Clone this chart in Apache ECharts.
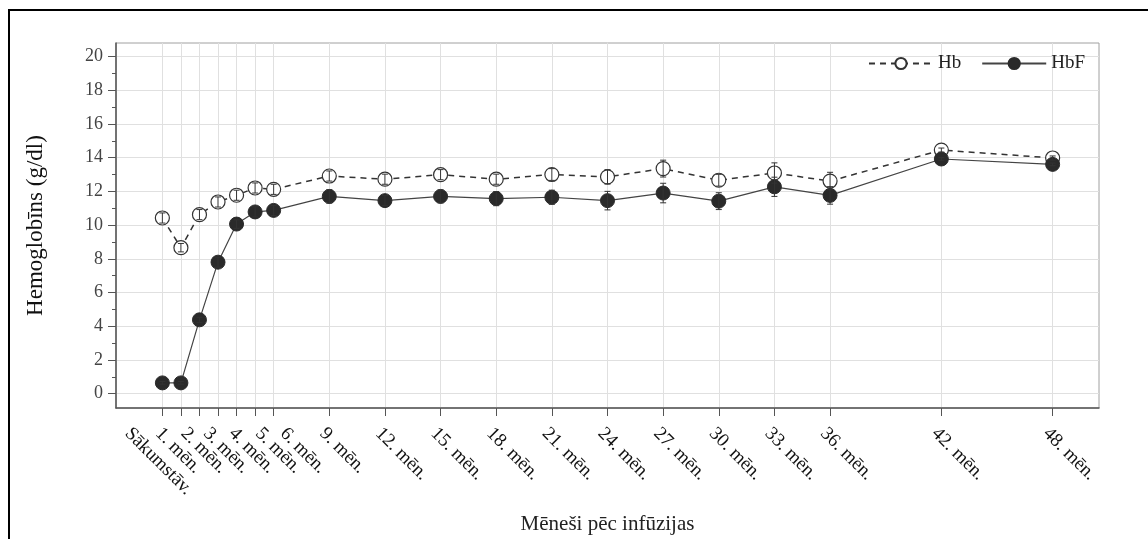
<!DOCTYPE html>
<html>
<head>
<meta charset="utf-8">
<script src="https://cdn.jsdelivr.net/npm/echarts@6/dist/echarts.min.js"></script>
<style>
  html, body { margin: 0; padding: 0; background: #fff; }
  #container { width: 1148px; height: 539px; }
</style>
</head>
<body>
<div id="container"></div>
<script>
// months after infusion (x positions) and their tick labels
const months = [0, 1, 2, 3, 4, 5, 6, 9, 12, 15, 18, 21, 24, 27, 30, 33, 36, 42, 48];
const monthLabels = [
  "Sākumstāv.", "1. mēn.", "2. mēn.", "3. mēn.", "4. mēn.", "5. mēn.", "6. mēn.",
  "9. mēn.", "12. mēn.", "15. mēn.", "18. mēn.", "21. mēn.", "24. mēn.", "27. mēn.",
  "30. mēn.", "33. mēn.", "36. mēn.", "42. mēn.", "48. mēn.",
];

// Hb (g/dl) and its error
const hb = [10.42, 8.66, 10.62, 11.37, 11.77, 12.2, 12.12, 12.91, 12.72, 12.99, 12.72, 13.0, 12.86, 13.35, 12.66, 13.09, 12.61, 14.45, 13.98];
const hbErr = [0.3, 0.25, 0.3, 0.3, 0.3, 0.3, 0.3, 0.3, 0.3, 0.3, 0.3, 0.35, 0.43, 0.5, 0.35, 0.6, 0.52, 0.12, 0.12];

// HbF (g/dl) and its error
const hbf = [0.64, 0.64, 4.38, 7.8, 10.06, 10.78, 10.87, 11.7, 11.45, 11.7, 11.57, 11.65, 11.45, 11.9, 11.42, 12.27, 11.76, 13.92, 13.6];
const hbfErr = [0.08, 0.08, 0.15, 0.3, 0.25, 0.3, 0.3, 0.4, 0.3, 0.38, 0.42, 0.42, 0.55, 0.58, 0.5, 0.57, 0.52, 0.08, 0.08];

const yMajor = [0, 2, 4, 6, 8, 10, 12, 14, 16, 18, 20];
const yMinor = [1, 3, 5, 7, 9, 11, 13, 15, 17, 19];

const FONT = "Liberation Serif";
const DARK = "#333";

// the crowded first labels are fanned out sideways (px), like in the original
const labelNudge = { 0: -28, 1: -16, 2: -9, 3: -5, 4: 2, 5: 10, 6: 16 };

// labels split over two axes so that the min-label overlap check never hides one
const labelsA = months.filter((m, i) => !(i >= 1 && i <= 5 && i % 2 === 1));
const labelsB = [1, 3, 5];

function pairs(vals) {
  return months.map((m, i) => [m, vals[i]]);
}
function errRows(vals, errs) {
  return months.map((m, i) => [m, vals[i] - errs[i], vals[i] + errs[i]]);
}

const labelRich = {};
Object.keys(labelNudge).forEach((m) => {
  const d = labelNudge[m] / Math.SQRT2;
  labelRich["n" + m] = {
    fontFamily: FONT,
    fontSize: 19,
    color: "#111",
    padding: [-d, 0, 0, d],
  };
});

function monthLabel(v) {
  const i = months.indexOf(v);
  if (i < 0) return "";
  if (labelNudge[v] !== undefined) return "{n" + v + "|" + monthLabels[i] + "}";
  return monthLabels[i];
}

function renderErrorBar(params, api) {
  const x = api.value(0);
  const lo = api.coord([x, api.value(1)]);
  const hi = api.coord([x, api.value(2)]);
  const cap = 3;
  const style = { stroke: DARK, lineWidth: 1 };
  return {
    type: "group",
    children: [
      { type: "line", shape: { x1: lo[0], y1: lo[1], x2: hi[0], y2: hi[1] }, style: style },
      { type: "line", shape: { x1: lo[0] - cap, y1: lo[1], x2: lo[0] + cap, y2: lo[1] }, style: style },
      { type: "line", shape: { x1: hi[0] - cap, y1: hi[1], x2: hi[0] + cap, y2: hi[1] }, style: style },
    ],
  };
}

const xLabelBase = {
  rotate: -45,
  margin: 16,
  verticalAlign: "top",
  showMinLabel: true,
  showMaxLabel: true,
  fontFamily: FONT,
  fontSize: 19,
  color: "#111",
  hideOverlap: false,
  formatter: monthLabel,
  rich: labelRich,
};

const dom = document.getElementById("container");
const myChart = echarts.init(dom, null, { renderer: "canvas" });

const option = {
  animation: false,
  backgroundColor: "#fff",
  graphic: [
    {
      type: "rect",
      shape: { x: 9, y: 10, width: 1400, height: 800 },
      style: { fill: "none", stroke: "#000", lineWidth: 2 },
      silent: true,
    },
  ],
  grid: {
    left: 116,
    right: 49,
    top: 43,
    bottom: 131,
    show: true,
    borderColor: "#a0a0a0",
    borderWidth: 1,
    outerBoundsMode: "none",
  },
  legend: {
    data: ["Hb", "HbF"],
    right: 58,
    top: 49,
    itemWidth: 64,
    itemHeight: 14,
    itemGap: 20,
    textStyle: { fontFamily: FONT, fontSize: 19, color: "#222" },
  },
  xAxis: [
    {
      type: "value",
      position: "bottom",
      min: -2.5,
      max: 50.5,
      name: "Mēneši pēc infūzijas",
      nameLocation: "middle",
      nameGap: 106,
      nameTextStyle: { fontFamily: FONT, fontSize: 21, color: "#222" },
      axisLine: { show: true, onZero: false, lineStyle: { color: "#555", width: 1.5 } },
      axisTick: {
        show: true,
        customValues: months,
        length: 8,
        lineStyle: { color: "#555" },
      },
      axisLabel: Object.assign({ customValues: labelsA }, xLabelBase),
      splitLine: { show: true, lineStyle: { color: "#e0e0e0", width: 1 } },
    },
    {
      type: "value",
      position: "bottom",
      min: -2.5,
      max: 50.5,
      axisLine: { show: false, onZero: false },
      axisTick: { show: true, customValues: labelsB, length: 8, lineStyle: { color: "#555" } },
      axisLabel: Object.assign({ customValues: labelsB }, xLabelBase),
      splitLine: { show: false },
    },
  ],
  yAxis: [
    {
      type: "value",
      min: -0.85,
      max: 20.8,
      name: "Hemoglobīns (g/dl)",
      nameLocation: "middle",
      nameGap: 69,
      nameTextStyle: { fontFamily: FONT, fontSize: 23, color: "#111" },
      axisLine: { show: true, onZero: false, lineStyle: { color: "#555", width: 1.5 } },
      axisTick: {
        show: true,
        customValues: yMajor,
        length: 8,
        lineStyle: { color: "#555" },
      },
      axisLabel: {
        customValues: yMajor,
        margin: 13,
        fontFamily: FONT,
        fontSize: 18,
        color: "#444",
      },
      splitLine: { show: true, lineStyle: { color: "#e0e0e0", width: 1 } },
    },
    {
      type: "value",
      position: "left",
      min: -0.85,
      max: 20.8,
      axisLine: { show: false, onZero: false },
      axisTick: {
        show: true,
        customValues: yMinor,
        length: 4,
        lineStyle: { color: "#555" },
      },
      axisLabel: { show: false, customValues: yMinor },
      splitLine: { show: false },
    },
  ],
  series: [
    {
      name: "Hb",
      type: "line",
      data: pairs(hb),
      symbol: "circle",
      symbolSize: 14,
      z: 2,
      lineStyle: { color: DARK, width: 1.5, type: [6, 5] },
      itemStyle: { color: "#fff", borderColor: DARK, borderWidth: 1.2 },
    },
    {
      name: "HbF",
      type: "line",
      data: pairs(hbf),
      symbol: "circle",
      symbolSize: 14,
      z: 2,
      lineStyle: { color: "#444", width: 1.2 },
      itemStyle: { color: "#2a2a2a", borderColor: "#2a2a2a", borderWidth: 1 },
    },
    {
      name: "Hb err",
      type: "custom",
      renderItem: renderErrorBar,
      data: errRows(hb, hbErr),
      z: 4,
      silent: true,
    },
    {
      name: "HbF err",
      type: "custom",
      renderItem: renderErrorBar,
      data: errRows(hbf, hbfErr),
      z: 4,
      silent: true,
    },
  ],
};

myChart.setOption(option);
window.addEventListener("resize", myChart.resize);
</script>
</body>
</html>
